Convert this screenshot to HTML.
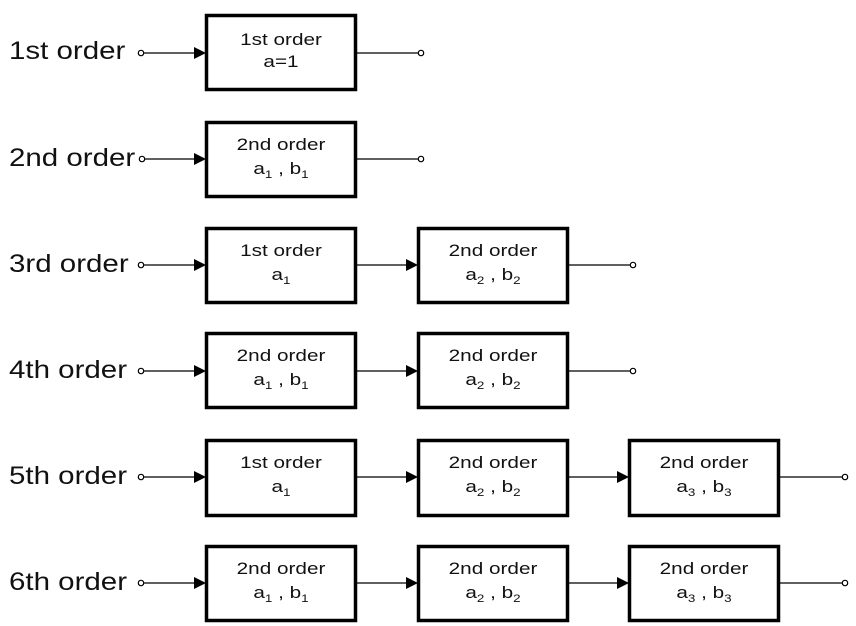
<!DOCTYPE html>
<html><head><meta charset="utf-8"><style>
html,body{margin:0;padding:0;background:#fff;}
svg{display:block;font-family:"Liberation Sans",Arial,sans-serif;}
.lbl{font-size:25px;fill:#111;}
.bt{font-size:17px;fill:#111;text-anchor:middle;}
.sub{font-size:11px;}
</style></head><body>
<svg width="856" height="626" viewBox="0 0 856 626" xmlns="http://www.w3.org/2000/svg">
<defs>
<g id="arrow"><polygon points="-12,-6 0,0 -12,6" fill="#000"/></g>
</defs>
<g stroke="#000" fill="none">
<line x1="144" y1="53" x2="200" y2="53" stroke-width="1.3"/>
<rect x="206.5" y="15.5" width="149" height="74" stroke-width="3.5" fill="#fff"/>
<line x1="357" y1="53" x2="418" y2="53" stroke-width="1.3"/>
<line x1="145" y1="159" x2="200" y2="159" stroke-width="1.3"/>
<rect x="206.5" y="122.5" width="149" height="74" stroke-width="3.5" fill="#fff"/>
<line x1="357" y1="159" x2="418" y2="159" stroke-width="1.3"/>
<line x1="144" y1="265" x2="200" y2="265" stroke-width="1.3"/>
<rect x="206.5" y="228.5" width="149" height="74" stroke-width="3.5" fill="#fff"/>
<line x1="357" y1="265" x2="412" y2="265" stroke-width="1.3"/>
<rect x="418.5" y="228.5" width="149" height="74" stroke-width="3.5" fill="#fff"/>
<line x1="569" y1="265" x2="630" y2="265" stroke-width="1.3"/>
<line x1="144" y1="371" x2="200" y2="371" stroke-width="1.3"/>
<rect x="206.5" y="333.5" width="149" height="74" stroke-width="3.5" fill="#fff"/>
<line x1="357" y1="371" x2="412" y2="371" stroke-width="1.3"/>
<rect x="418.5" y="333.5" width="149" height="74" stroke-width="3.5" fill="#fff"/>
<line x1="569" y1="371" x2="630" y2="371" stroke-width="1.3"/>
<line x1="144" y1="477" x2="200" y2="477" stroke-width="1.3"/>
<rect x="206.5" y="440.5" width="149" height="75" stroke-width="3.5" fill="#fff"/>
<line x1="357" y1="477" x2="412" y2="477" stroke-width="1.3"/>
<rect x="418.5" y="440.5" width="149" height="75" stroke-width="3.5" fill="#fff"/>
<line x1="569" y1="477" x2="623" y2="477" stroke-width="1.3"/>
<rect x="629.5" y="440.5" width="149" height="75" stroke-width="3.5" fill="#fff"/>
<line x1="780" y1="477" x2="842" y2="477" stroke-width="1.3"/>
<line x1="144" y1="583" x2="200" y2="583" stroke-width="1.3"/>
<rect x="206.5" y="546.5" width="149" height="74" stroke-width="3.5" fill="#fff"/>
<line x1="357" y1="583" x2="412" y2="583" stroke-width="1.3"/>
<rect x="418.5" y="546.5" width="149" height="74" stroke-width="3.5" fill="#fff"/>
<line x1="569" y1="583" x2="623" y2="583" stroke-width="1.3"/>
<rect x="629.5" y="546.5" width="149" height="74" stroke-width="3.5" fill="#fff"/>
<line x1="780" y1="583" x2="842" y2="583" stroke-width="1.3"/>
<g stroke-width="1.2" fill="#fff">
<circle cx="141" cy="53" r="2.7"/><circle cx="421" cy="53" r="2.7"/>
<circle cx="142" cy="159" r="2.7"/><circle cx="421" cy="159" r="2.7"/>
<circle cx="141" cy="265" r="2.7"/><circle cx="633" cy="265" r="2.7"/>
<circle cx="141" cy="371" r="2.7"/><circle cx="633" cy="371" r="2.7"/>
<circle cx="141" cy="477" r="2.7"/><circle cx="845" cy="477" r="2.7"/>
<circle cx="141" cy="583" r="2.7"/><circle cx="845" cy="583" r="2.7"/>
</g>
</g>
<use href="#arrow" x="206" y="53"/><use href="#arrow" x="206" y="159"/>
<use href="#arrow" x="206" y="265"/><use href="#arrow" x="418" y="265"/>
<use href="#arrow" x="206" y="371"/><use href="#arrow" x="418" y="371"/>
<use href="#arrow" x="206" y="477"/><use href="#arrow" x="418" y="477"/><use href="#arrow" x="629" y="477"/>
<use href="#arrow" x="206" y="583"/><use href="#arrow" x="418" y="583"/><use href="#arrow" x="629" y="583"/>
<text class="lbl" transform="translate(9,59) scale(1.18 1)">1st order</text>
<text class="lbl" transform="translate(9,166) scale(1.18 1)">2nd order</text>
<text class="lbl" transform="translate(9,272) scale(1.18 1)">3rd order</text>
<text class="lbl" transform="translate(9,378) scale(1.18 1)">4th order</text>
<text class="lbl" transform="translate(9,484) scale(1.18 1)">5th order</text>
<text class="lbl" transform="translate(9,590) scale(1.18 1)">6th order</text>

<text class="bt" transform="translate(281,45) scale(1.22 1)">1st order</text>
<text class="bt" transform="translate(281,67) scale(1.22 1)">a=1</text>

<text class="bt" transform="translate(281,150) scale(1.22 1)">2nd order</text>
<text class="bt" transform="translate(281,174) scale(1.22 1)">a<tspan class="sub" dy="4">1</tspan><tspan dy="-4"> , b</tspan><tspan class="sub" dy="4">1</tspan></text>

<text class="bt" transform="translate(281,256) scale(1.22 1)">1st order</text>
<text class="bt" transform="translate(281,280) scale(1.22 1)">a<tspan class="sub" dy="4">1</tspan></text>
<text class="bt" transform="translate(493,256) scale(1.22 1)">2nd order</text>
<text class="bt" transform="translate(493,280) scale(1.22 1)">a<tspan class="sub" dy="4">2</tspan><tspan dy="-4"> , b</tspan><tspan class="sub" dy="4">2</tspan></text>

<text class="bt" transform="translate(281,361) scale(1.22 1)">2nd order</text>
<text class="bt" transform="translate(281,385) scale(1.22 1)">a<tspan class="sub" dy="4">1</tspan><tspan dy="-4"> , b</tspan><tspan class="sub" dy="4">1</tspan></text>
<text class="bt" transform="translate(493,361) scale(1.22 1)">2nd order</text>
<text class="bt" transform="translate(493,385) scale(1.22 1)">a<tspan class="sub" dy="4">2</tspan><tspan dy="-4"> , b</tspan><tspan class="sub" dy="4">2</tspan></text>

<text class="bt" transform="translate(281,468) scale(1.22 1)">1st order</text>
<text class="bt" transform="translate(281,492) scale(1.22 1)">a<tspan class="sub" dy="4">1</tspan></text>
<text class="bt" transform="translate(493,468) scale(1.22 1)">2nd order</text>
<text class="bt" transform="translate(493,492) scale(1.22 1)">a<tspan class="sub" dy="4">2</tspan><tspan dy="-4"> , b</tspan><tspan class="sub" dy="4">2</tspan></text>
<text class="bt" transform="translate(704,468) scale(1.22 1)">2nd order</text>
<text class="bt" transform="translate(704,492) scale(1.22 1)">a<tspan class="sub" dy="4">3</tspan><tspan dy="-4"> , b</tspan><tspan class="sub" dy="4">3</tspan></text>

<text class="bt" transform="translate(281,574) scale(1.22 1)">2nd order</text>
<text class="bt" transform="translate(281,598) scale(1.22 1)">a<tspan class="sub" dy="4">1</tspan><tspan dy="-4"> , b</tspan><tspan class="sub" dy="4">1</tspan></text>
<text class="bt" transform="translate(493,574) scale(1.22 1)">2nd order</text>
<text class="bt" transform="translate(493,598) scale(1.22 1)">a<tspan class="sub" dy="4">2</tspan><tspan dy="-4"> , b</tspan><tspan class="sub" dy="4">2</tspan></text>
<text class="bt" transform="translate(704,574) scale(1.22 1)">2nd order</text>
<text class="bt" transform="translate(704,598) scale(1.22 1)">a<tspan class="sub" dy="4">3</tspan><tspan dy="-4"> , b</tspan><tspan class="sub" dy="4">3</tspan></text>
</svg>
</body></html>
